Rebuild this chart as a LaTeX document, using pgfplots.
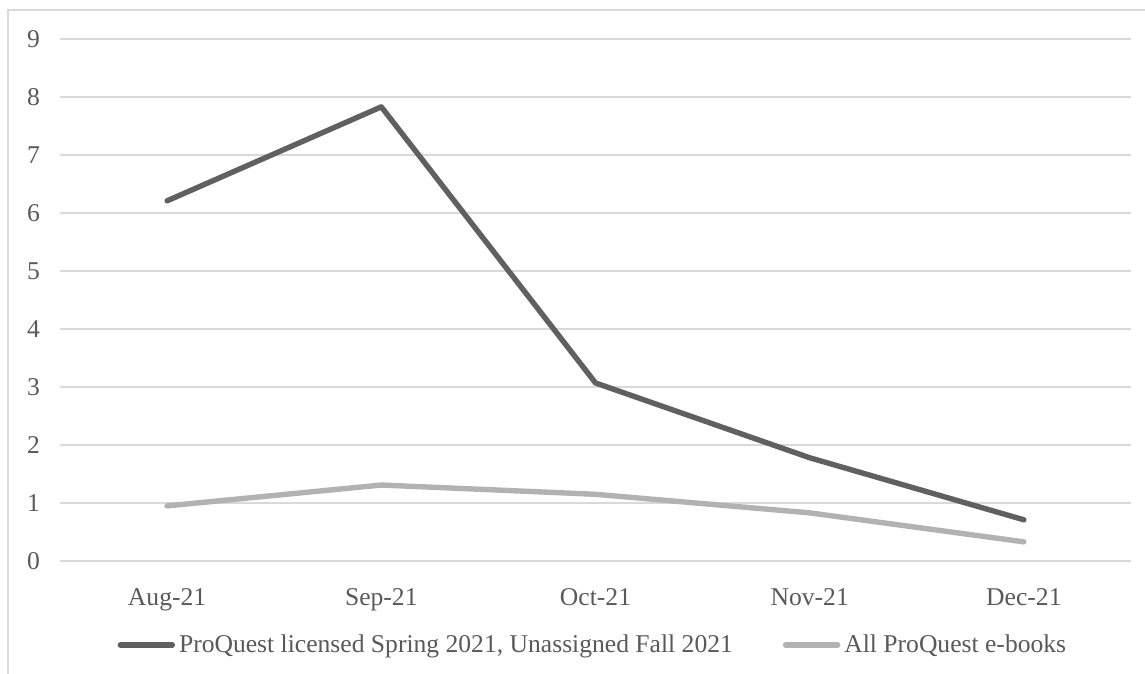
\documentclass[border=0pt]{standalone}
\usepackage{pgfplots}
\pgfplotsset{compat=1.18}
\usepackage{fontspec}
\setmainfont{Liberation Serif}
\definecolor{txt}{HTML}{595959}
\definecolor{gridc}{HTML}{D9D9D9}
\definecolor{darkl}{HTML}{606060}
\definecolor{lightl}{HTML}{B2B2B2}
\begin{document}
\begin{tikzpicture}
\path[use as bounding box] (0,0) rectangle (572.5pt,337pt);
\draw[gridc, line width=0.7pt] (4pt,0) -- (4pt,332pt) -- (572.5pt,332pt);
\begin{axis}[
  at={(30pt,56.5pt)}, anchor=south west,
  scale only axis, width=535.5pt, height=261pt,
  xmin=-0.5, xmax=4.5, ymin=0, ymax=9,
  xtick={0,1,2,3,4},
  xticklabels={Aug-21,Sep-21,Oct-21,Nov-21,Dec-21},
  ytick={0,1,...,9},
  ymajorgrids,
  grid style={gridc, line width=0.65pt},
  axis line style={draw=none},
  major tick length=0pt,
  /pgf/number format/assume math mode=true,
  tick label style={font=\fontsize{12.8}{14}\selectfont, text=txt},
  yticklabel style={xshift=-6.5pt},
  xticklabel style={yshift=-10pt},
  clip=false,
  legend columns=2,
  legend style={at={(0.4985,-0.161)}, anchor=center, draw=none, fill=none,
    font=\fontsize{12.8}{14}\selectfont, text=txt,
    /tikz/every even column/.append style={column sep=23pt}},
  legend cell align=left,
  legend image code/.code={\draw[#1, line cap=round] (0pt,0pt) -- (26pt,0pt);},
]
\addplot[darkl, line width=2.7pt, line cap=round, line join=round] coordinates {
  (0,6.21) (1,7.83) (2,3.07) (3,1.78) (4,0.71)};
\addlegendentry{ProQuest licensed Spring 2021, Unassigned Fall 2021}
\addplot[lightl, line width=2.7pt, line cap=round, line join=round] coordinates {
  (0,0.95) (1,1.31) (2,1.15) (3,0.83) (4,0.33)};
\addlegendentry{All ProQuest e-books}
\end{axis}
\end{tikzpicture}
\end{document}
